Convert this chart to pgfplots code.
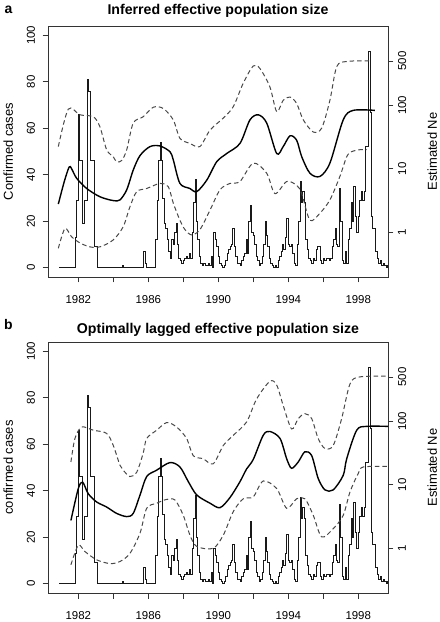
\documentclass[border=0pt]{standalone}
\usepackage{pgfplots}
\usepackage{pgfplotstable}
\usepackage{fontspec}
\setmainfont{Liberation Sans}
\pgfplotsset{compat=1.18}

\pgfplotstableread{
year cases
1980.917 0
1981.833 13
1981.917 29
1982.000 66
1982.083 46
1982.250 19
1982.333 29
1982.500 81
1982.583 76
1982.667 46
1982.917 9
1983.083 0
1984.500 1
1984.583 0
1985.750 7
1985.833 2
1985.917 0
1986.417 12
1986.500 29
1986.583 46
1986.667 54
1986.750 46
1986.833 30
1986.917 19
1987.000 17
1987.083 12
1987.167 7
1987.250 4
1987.333 12
1987.417 10
1987.500 15
1987.583 19
1987.667 10
1987.750 4
1987.833 3
1987.917 2
1988.000 3
1988.083 4
1988.167 5
1988.250 4
1988.333 6
1988.417 4
1988.500 15
1988.583 28
1988.667 38
1988.750 20
1988.833 12
1988.917 5
1989.000 2
1989.083 1
1989.167 2
1989.250 1
1989.333 1
1989.417 2
1989.500 1
1989.583 5
1989.667 0
1989.750 15
1989.833 12
1989.917 9
1990.000 5
1990.083 2
1990.167 1
1990.250 0
1990.333 1
1990.417 3
1990.500 6
1990.583 8
1990.667 9
1990.750 10
1990.833 17
1990.917 9
1991.000 5
1991.083 2
1991.167 2
1991.250 1
1991.333 3
1991.417 5
1991.500 6
1991.583 12
1991.667 6
1991.750 20
1991.833 27
1991.917 15
1992.000 14
1992.083 10
1992.167 5
1992.250 3
1992.333 1
1992.417 2
1992.500 5
1992.583 10
1992.667 20
1992.750 14
1992.833 9
1992.917 4
1993.000 2
1993.083 1
1993.167 0
1993.250 1
1993.333 0
1993.417 3
1993.500 5
1993.583 7
1993.667 10
1993.750 8
1993.833 13
1993.917 21
1994.000 10
1994.083 9
1994.167 10
1994.250 6
1994.333 2
1994.417 1
1994.500 10
1994.583 20
1994.667 37
1994.750 28
1994.833 33
1994.917 28
1995.000 12
1995.083 8
1995.167 4
1995.250 3
1995.333 2
1995.417 4
1995.500 3
1995.583 8
1995.667 9
1995.750 9
1995.833 3
1995.917 2
1996.000 4
1996.083 3
1996.167 4
1996.250 4
1996.333 3
1996.417 4
1996.500 9
1996.583 12
1996.667 17
1996.750 10
1996.833 9
1996.917 34
1997.000 20
1997.083 3
1997.167 2
1997.250 7
1997.333 2
1997.417 12
1997.500 17
1997.583 28
1997.667 20
1997.750 35
1997.833 22
1997.917 15
1998.000 22
1998.083 29
1998.167 33
1998.250 29
1998.333 33
1998.417 52
1998.500 52
1998.583 93
1998.667 67
1998.750 22
1998.833 17
1998.917 17
1999.000 7
1999.083 4
1999.167 2
1999.250 3
1999.333 1
1999.417 2
1999.500 1
1999.583 0
1999.667 1
1999.700 1
}\casetab

\pgfplotstableread{
year ne
1980.86 2.79
1981.20 6.3
1981.48 10.7
1981.62 10.0
1981.91 7.08
1982.48 4.90
1983.24 3.63
1984.00 3.16
1984.38 3.24
1984.77 4.68
1985.14 9.55
1985.53 16.2
1986.10 22.4
1986.67 22.9
1987.24 18.6
1987.43 13.8
1987.81 5.89
1988.38 4.90
1988.77 4.37
1989.34 6.61
1989.91 12.9
1990.48 17.4
1991.24 25.1
1991.81 58.9
1992.29 70.8
1992.77 52.5
1993.34 17.4
1993.71 22.4
1994.10 33.1
1994.48 28.2
1994.77 15.5
1995.24 8.51
1995.81 7.59
1996.38 12.3
1997.14 58.9
1997.71 83.2
1998.95 83.2
}\neAmed
\pgfplotstableread{
year ne
1980.86 22.4
1981.43 87.1
1982.10 70.8
1982.86 66.1
1983.24 45.7
1983.62 20.0
1984.00 15.5
1984.19 12.9
1984.48 13.5
1984.77 20.0
1985.14 52.5
1985.71 66.1
1986.29 93.3
1986.86 89.1
1987.43 58.9
1987.81 30.2
1988.38 25.1
1988.95 22.4
1989.53 40.7
1990.29 63.1
1990.86 95.5
1991.43 224
1992.00 417
1992.38 380
1992.95 195
1993.34 79.4
1993.71 120
1994.10 135
1994.48 107
1994.86 58.9
1995.43 38.0
1995.91 43.7
1996.38 120
1996.77 407
1997.34 490
1998.48 501
1998.67 501
}\neAup
\pgfplotstableread{
year ne
1980.86 0.56
1981.24 1.15
1981.62 0.85
1982.10 0.68
1982.67 0.59
1983.24 0.59
1984.00 0.76
1984.57 1.23
1984.95 2.51
1985.34 4.37
1985.91 4.90
1986.67 5.89
1987.14 5.25
1987.43 2.88
1987.81 1.55
1988.10 1.10
1988.48 0.91
1988.95 1.10
1989.53 2.24
1990.10 4.68
1990.67 5.89
1991.24 6.31
1992.00 12.3
1992.77 8.51
1993.24 4.07
1993.91 6.31
1994.48 5.50
1994.77 4.07
1995.24 1.55
1995.81 2.00
1996.38 3.24
1996.95 7.59
1997.34 15.5
1997.62 18.6
1998.10 20.0
1998.48 20.0
}\neAlo

\pgfplotstableread{
year ne
1981.58 2.75
1982.00 8.71
1982.25 11.0
1982.57 7.24
1983.05 5.37
1983.62 4.47
1984.19 3.55
1984.77 3.16
1985.14 3.55
1985.53 6.92
1985.91 13.5
1986.48 17.0
1987.24 22.4
1987.81 19.1
1988.29 11.2
1988.77 6.92
1989.53 5.13
1990.10 4.37
1990.67 6.31
1991.24 11.2
1991.62 17.8
1992.00 25.1
1992.57 60.3
1992.95 69.2
1993.53 53.7
1993.91 25.7
1994.19 18.2
1994.57 22.9
1994.95 33.1
1995.34 28.8
1995.71 12.6
1996.10 8.32
1996.57 8.32
1997.14 14.1
1997.34 25.7
1997.91 72.4
1998.48 83.2
1999.71 83.2
}\neBmed
\pgfplotstableread{
year ne
1981.58 22.9
1981.81 53.7
1982.19 81.3
1982.86 72.4
1983.62 64.6
1984.00 41.7
1984.38 20.4
1984.57 17.0
1984.95 13.5
1985.34 15.8
1985.71 31.6
1985.91 53.7
1986.48 72.4
1987.05 95.5
1987.62 81.3
1988.19 53.7
1988.57 28.8
1989.14 25.7
1989.71 21.4
1990.29 41.7
1990.86 60.3
1991.62 97.7
1992.19 224
1992.95 427
1993.34 372
1993.71 178
1994.19 75.9
1994.57 110
1994.95 132
1995.34 110
1995.71 53.7
1996.10 37.2
1996.57 41.7
1997.05 110
1997.53 389
1998.10 501
1999.71 513
}\neBup
\pgfplotstableread{
year ne
1981.58 0.55
1982.00 1.12
1982.38 0.89
1983.05 0.66
1983.81 0.575
1984.38 0.62
1984.95 0.83
1985.53 1.74
1985.91 4.27
1986.48 5.13
1987.05 5.89
1987.53 5.75
1988.00 3.31
1988.38 1.62
1988.77 1.07
1989.71 1.00
1990.29 1.62
1990.86 3.80
1991.43 6.03
1992.00 6.46
1992.57 11.5
1993.34 8.71
1993.91 4.27
1994.48 6.03
1994.95 6.03
1995.43 3.31
1995.91 1.51
1996.57 2.04
1997.14 3.31
1997.53 7.76
1998.00 15.1
1998.29 19.1
1999.71 19.5
}\neBlo

\definecolor{framec}{HTML}{333333}
\definecolor{dashc}{HTML}{484848}

\pgfplotsset{
  myBase/.style={
    scale only axis, width=340bp, height=251bp,
    xmin=1980.27, xmax=1999.7,
    /pgf/number format/assume math mode=true,
    /pgf/number format/1000 sep={},
    tick align=outside, major tick length=5.5bp,
    axis line style={line width=0.7pt, draw=framec},
    tick style={line width=0.7pt, draw=framec},
    ticklabel style={font=\fontsize{11.5}{13}\selectfont},
  },
  myCase/.style={
    myBase, ymin=-4, ymax=104,
    xtick={1982,1984,...,1998},
    xticklabels={1982,,1986,,1990,,1994,,1998},
    ytick={0,20,...,100},
    xtick pos=bottom, ytick pos=left,
    yticklabel style={rotate=90, anchor=south, yshift=4bp},
    xticklabel style={yshift=-9.5bp},
    ylabel style={at={(axis description cs:-0.117,0.5)}, anchor=center, font=\fontsize{13}{15}\selectfont},
  },
  myNe/.style={
    myBase, ymin=0.198, ymax=1774,
    axis x line=none, axis y line*=right,
    ytick={1,10,100,500}, yticklabels={1,10,100,500},
    yminorticks=false,
    yticklabel style={rotate=90, anchor=north, yshift=-1bp},
    ylabel style={at={(axis description cs:1.13,0.5)}, anchor=center, font=\fontsize{13}{15}\selectfont},
  },
  stepA/.style={const plot mark left, black!90, line width=0.8pt},
  med/.style={black, line width=1.4pt, smooth, tension=0.5},
  ci/.style={dashc, line width=1pt, dash pattern=on 4.5bp off 3bp, smooth, tension=0.5},
}

\begin{document}
\begin{tikzpicture}
\useasboundingbox (0,0) rectangle (440bp,622bp);

% ---------- panel a ----------
\begin{axis}[myCase, at={(48bp,345bp)}, anchor=south west, ylabel={Confirmed cases}]
\addplot[stepA] table[x=year,y=cases] {\casetab};
\end{axis}
\begin{axis}[ymode=log, myNe, at={(48bp,345bp)}, anchor=south west, ylabel={Estimated Ne}]
\addplot[ci] table[x=year,y=ne] {\neAup};
\addplot[ci] table[x=year,y=ne] {\neAlo};
\addplot[med] table[x=year,y=ne] {\neAmed};
\end{axis}
\node[font=\bfseries\fontsize{14.2}{16}\selectfont] at (218bp,611bp) {Inferred effective population size};
\node[font=\bfseries\fontsize{14}{16}\selectfont] at (8.5bp,612bp) {a};

% ---------- panel b ----------
\begin{axis}[myCase, at={(48bp,29bp)}, anchor=south west, ylabel={confirmed cases}]
\addplot[stepA] table[x=year,y=cases] {\casetab};
\end{axis}
\begin{axis}[ymode=log, myNe, at={(48bp,29bp)}, anchor=south west, ylabel={Estimated Ne}]
\addplot[ci] table[x=year,y=ne] {\neBup};
\addplot[ci] table[x=year,y=ne] {\neBlo};
\addplot[med] table[x=year,y=ne] {\neBmed};
\end{axis}
\node[font=\bfseries\fontsize{14.2}{16}\selectfont] at (218bp,292bp) {Optimally lagged effective population size};
\node[font=\bfseries\fontsize{14}{16}\selectfont] at (8.5bp,297bp) {b};
\end{tikzpicture}
\end{document}
